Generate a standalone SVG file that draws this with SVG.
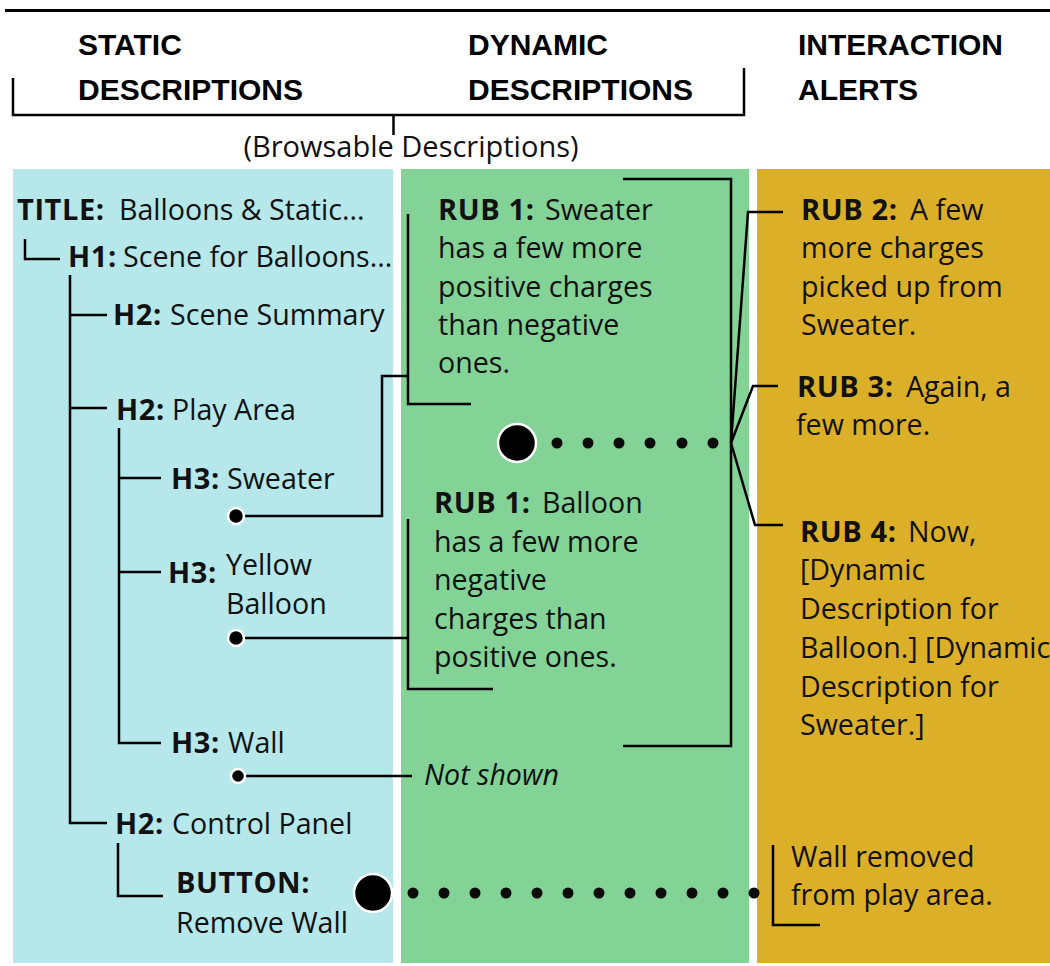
<svg xmlns="http://www.w3.org/2000/svg" width="1050" height="966" viewBox="0 0 1050 966">
  <style>
    .ln { fill: none; stroke: #000; stroke-width: 2.5; }
    .dot { fill: #000; stroke: #fff; stroke-width: 2.5; }
    .sd { fill: #0b0b0b; }
    .t { font-family: "Open Sans", "Noto Sans", sans-serif; font-size: 28.6px; fill: #111; }
    .b { font-weight: bold; font-size: 29px; letter-spacing: 0.6px; }
    .i { font-style: italic; }
    .hd { font-family: "Liberation Sans", Arial, sans-serif; font-weight: bold; font-size: 30px; fill: #000; }
    .sub { font-family: "Open Sans", "Noto Sans", sans-serif; font-size: 29px; fill: #111; }
  </style>

  <rect width="1050" height="966" fill="#fff"/>

  <!-- column backgrounds -->
  <g id="columns">
    <rect x="13" y="169" width="380" height="794" fill="#b6e7eb"/>
    <rect x="401" y="169" width="348" height="794" fill="#84d396"/>
    <rect x="757" y="169" width="293" height="794" fill="#dcaf28"/>
  </g>

  <!-- column headings -->
  <g id="headings">
    <line x1="5" y1="10.5" x2="1050" y2="10.5" stroke="#000" stroke-width="3"/>
    <text class="hd" x="78" y="55">STATIC</text>
    <text class="hd" x="78" y="100">DESCRIPTIONS</text>
    <text class="hd" x="468" y="55">DYNAMIC</text>
    <text class="hd" x="468" y="100">DESCRIPTIONS</text>
    <text class="hd" x="798" y="55">INTERACTION</text>
    <text class="hd" x="798" y="100">ALERTS</text>
    <path class="ln" d="M13 78 V115 H744 V68 M393.5 115 V135" stroke-width="2"/>
    <text class="sub" x="411" y="157" text-anchor="middle">(Browsable Descriptions)</text>
  </g>

  <!-- connectors -->
  <g id="connectors">
    <!-- static tree -->
    <path class="ln" d="M25 239 V259 H60"/>
    <path class="ln" d="M70 275 V823 H107"/>
    <path class="ln" d="M70 315 H107 M70 408 H107"/>
    <path class="ln" d="M119 428 V743 H161"/>
    <path class="ln" d="M119 478 H161 M119 572 H161"/>
    <path class="ln" d="M118 843 V896 H163"/>
    <!-- links to dynamic descriptions -->
    <path class="ln" d="M244 516 H382 V376 H408"/>
    <path class="ln" d="M408 214 V404 H471"/>
    <path class="ln" d="M244 638 H408"/>
    <path class="ln" d="M408 519 V689 H493"/>
    <path class="ln" d="M245 776 H412"/>
    <!-- bracket around the rub descriptions and fan-out to alerts -->
    <path class="ln" d="M623 179 H731 V746 H623"/>
    <path class="ln" d="M731 443 L748 212 H783"/>
    <path class="ln" d="M731 443 L753 386 H778"/>
    <path class="ln" d="M731 443 L755 525 H783"/>
    <!-- alert bracket for the button -->
    <path class="ln" d="M773 845 V925 H820"/>
    <!-- dotted interaction paths -->
    <g class="sd">
      <circle cx="557" cy="443" r="5.5"/>
      <circle cx="588" cy="443" r="5.5"/>
      <circle cx="619" cy="443" r="5.5"/>
      <circle cx="650" cy="443" r="5.5"/>
      <circle cx="682" cy="443" r="5.5"/>
      <circle cx="713" cy="443" r="5.5"/>
      <circle cx="413" cy="893" r="5.5"/>
      <circle cx="444" cy="893" r="5.5"/>
      <circle cx="475" cy="893" r="5.5"/>
      <circle cx="506" cy="893" r="5.5"/>
      <circle cx="537" cy="893" r="5.5"/>
      <circle cx="568" cy="893" r="5.5"/>
      <circle cx="599" cy="893" r="5.5"/>
      <circle cx="630" cy="893" r="5.5"/>
      <circle cx="661" cy="893" r="5.5"/>
      <circle cx="692" cy="893" r="5.5"/>
      <circle cx="723" cy="893" r="5.5"/>
      <circle cx="754" cy="893" r="5.5"/>
    </g>
  </g>

  <!-- static description tree -->
  <g id="title">
    <text class="t" y="220"><tspan class="b" x="17">TITLE:</tspan><tspan x="119">Balloons &amp; Static...</tspan></text>
  </g>
  <g id="h1-scene">
    <text class="t" y="267"><tspan class="b" x="68">H1:</tspan><tspan x="123">Scene for Balloons...</tspan></text>
  </g>
  <g id="h2-summary">
    <text class="t" y="325"><tspan class="b" x="113">H2:</tspan><tspan x="170">Scene Summary</tspan></text>
  </g>
  <g id="h2-play-area">
    <text class="t" y="420"><tspan class="b" x="116">H2:</tspan><tspan x="172">Play Area</tspan></text>
  </g>
  <g id="h3-sweater">
    <text class="t" y="489"><tspan class="b" x="171">H3:</tspan><tspan x="227">Sweater</tspan></text>
    <circle class="dot" cx="236" cy="516" r="8"/>
  </g>
  <g id="h3-balloon">
    <text class="t b" x="168" y="583">H3:</text>
    <text class="t" x="226" y="575">Yellow</text>
    <text class="t" x="226" y="614">Balloon</text>
    <circle class="dot" cx="236" cy="638" r="8"/>
  </g>
  <g id="h3-wall">
    <text class="t" y="753"><tspan class="b" x="171">H3:</tspan><tspan x="228">Wall</tspan></text>
    <circle class="dot" cx="238" cy="776" r="7"/>
  </g>
  <g id="h2-control-panel">
    <text class="t" y="834"><tspan class="b" x="115">H2:</tspan><tspan x="172">Control Panel</tspan></text>
  </g>
  <g id="button-remove-wall">
    <text class="t b" x="176" y="893">BUTTON:</text>
    <text class="t" x="176" y="933">Remove Wall</text>
    <circle class="dot" cx="373" cy="893" r="19"/>
  </g>

  <!-- dynamic descriptions -->
  <g id="rub1-sweater">
    <text class="t">
      <tspan x="438" y="220" class="b">RUB 1:</tspan><tspan x="545" y="220">Sweater</tspan>
      <tspan x="438" y="258">has a few more</tspan>
      <tspan x="438" y="297">positive charges</tspan>
      <tspan x="438" y="335">than negative</tspan>
      <tspan x="438" y="373">ones.</tspan>
    </text>
  </g>
  <g id="rub-trigger">
    <circle class="dot" cx="517" cy="443" r="19"/>
  </g>
  <g id="rub1-balloon">
    <text class="t">
      <tspan x="434" y="513" class="b">RUB 1:</tspan><tspan x="542" y="513">Balloon</tspan>
      <tspan x="434" y="552">has a few more</tspan>
      <tspan x="434" y="590">negative</tspan>
      <tspan x="434" y="629">charges than</tspan>
      <tspan x="434" y="667">positive ones.</tspan>
    </text>
  </g>
  <g id="wall-not-shown">
    <text class="t i" x="424" y="785">Not shown</text>
  </g>

  <!-- interaction alerts -->
  <g id="rub2">
    <text class="t">
      <tspan x="801" y="220" class="b">RUB 2:</tspan><tspan x="910" y="220">A few</tspan>
      <tspan x="801" y="258">more charges</tspan>
      <tspan x="801" y="297">picked up from</tspan>
      <tspan x="801" y="335">Sweater.</tspan>
    </text>
  </g>
  <g id="rub3">
    <text class="t">
      <tspan x="797" y="397" class="b">RUB 3:</tspan><tspan x="906" y="397">Again, a</tspan>
      <tspan x="796" y="435">few more.</tspan>
    </text>
  </g>
  <g id="rub4">
    <text class="t">
      <tspan x="800" y="542" class="b">RUB 4:</tspan><tspan x="908" y="542">Now,</tspan>
      <tspan x="800" y="580">[Dynamic</tspan>
      <tspan x="800" y="619">Description for</tspan>
      <tspan x="800" y="658">Balloon.] [Dynamic</tspan>
      <tspan x="800" y="697">Description for</tspan>
      <tspan x="800" y="735">Sweater.]</tspan>
    </text>
  </g>
  <g id="wall-removed">
    <text class="t">
      <tspan x="791" y="867">Wall removed</tspan>
      <tspan x="791" y="905">from play area.</tspan>
    </text>
  </g>
</svg>
